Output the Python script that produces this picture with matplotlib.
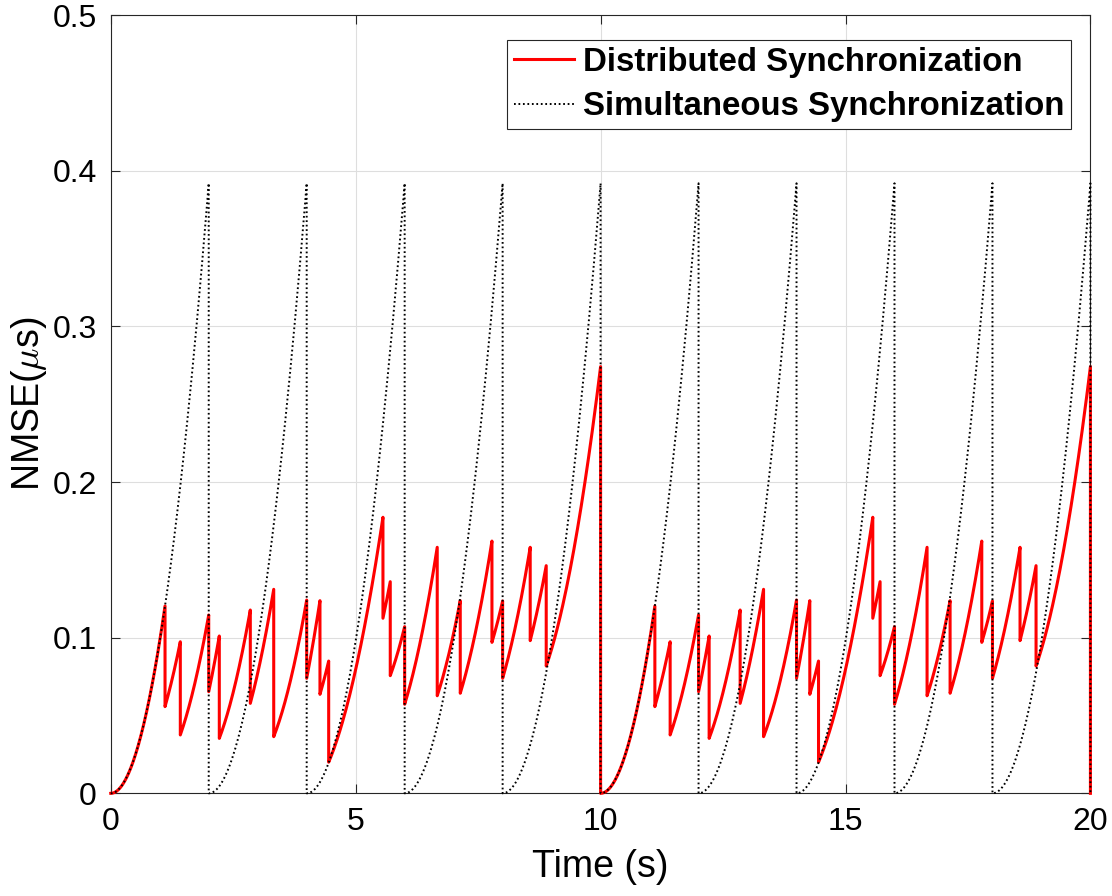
import numpy as np
import matplotlib
matplotlib.use("Agg")
import matplotlib.pyplot as plt

# ---------------- data ----------------
# Distributed synchronization: one 10-s pattern, repeated at these offsets
cycle_offsets = [0.0, 10.0]
# segment boundary times inside one 10-s pattern (s)
red_break_t = [0.0, 1.108, 1.420, 2.0, 2.216, 2.849, 3.327, 4.0, 4.271, 4.449,
               5.557, 5.706, 6.0, 6.665, 7.135, 7.782, 8.0, 8.563, 8.890, 10.0]
# value right after each reset (segment start)
red_reset_v = [0.0, 0.0557, 0.0375, 0.0653, 0.0353, 0.0578, 0.0364, 0.0739, 0.0636,
               0.0200, 0.1125, 0.0756, 0.0572, 0.0627, 0.0643, 0.0970, 0.0739, 0.0981,
               0.0818]
# value at the middle of each segment
red_mid_v = [0.030, 0.0748, 0.0698, 0.0823, 0.0691, 0.0902, 0.0718, 0.0975, 0.0737,
             0.080, 0.1239, 0.0898, 0.0994, 0.0892, 0.1054, 0.1094, 0.1101, 0.1202,
             0.155]
# value just before the next reset (segment peak)
red_peak_v = [0.1204, 0.0974, 0.1146, 0.1011, 0.1178, 0.1311, 0.1242, 0.1238, 0.0850,
              0.1774, 0.1360, 0.1071, 0.1581, 0.1238, 0.1621, 0.1236, 0.1581, 0.1463,
              0.2742]

# Simultaneous synchronization: reset every 2 s
black_reset_t = [0, 2, 4, 6, 8, 10, 12, 14, 16, 18]
black_period = 2.0
black_mid_v = 0.098
black_peak_v = 0.392

x_ticks = [0, 5, 10, 15, 20]
y_ticks = [0, 0.1, 0.2, 0.3, 0.4, 0.5]
labels = ["Distributed Synchronization", "Simultaneous Synchronization"]


def smooth_segment(t0, t1, v0, vm, v1, n=60):
    tm = 0.5 * (t0 + t1)
    coef = np.polyfit([t0, tm, t1], [v0, vm, v1], 2)
    tt = np.linspace(t0, t1, n)
    return tt, np.polyval(coef, tt)


# build red curve
rt, rv = [], []
for off in cycle_offsets:
    for i in range(len(red_reset_v)):
        tt, vv = smooth_segment(red_break_t[i] + off, red_break_t[i + 1] + off,
                                red_reset_v[i], red_mid_v[i], red_peak_v[i])
        rt.append(tt)
        rv.append(vv)
rt.append(np.array([cycle_offsets[-1] + red_break_t[-1]]))
rv.append(np.array([0.0]))
rt = np.concatenate(rt)
rv = np.concatenate(rv)

# build black curve
bt, bv = [], []
for t0 in black_reset_t:
    tt, vv = smooth_segment(t0, t0 + black_period, 0.0, black_mid_v, black_peak_v)
    bt.append(tt)
    bv.append(vv)
bt.append(np.array([black_reset_t[-1] + black_period]))
bv.append(np.array([0.0]))
bt = np.concatenate(bt)
bv = np.concatenate(bv)

# ---------------- plotting ----------------
plt.rcParams['font.family'] = ['Liberation Sans', 'DejaVu Sans']
plt.rcParams['mathtext.fontset'] = 'cm'

fig = plt.figure(figsize=(11.12, 8.96), dpi=100)
ax = fig.add_axes([0.0996, 0.1146, 0.9806 - 0.0996, 0.983 - 0.1146])

ax.plot(rt, rv, color='#ff0000', lw=2.2, label=labels[0], zorder=3, clip_on=False)
ax.plot(bt, bv, color='black', lw=1.4, linestyle=(0, (0.9, 1.4)), label=labels[1],
        zorder=4, clip_on=False)

ax.set_xlim(0, 20)
ax.set_ylim(0, 0.5)
ax.set_xticks(x_ticks)
ax.set_yticks(y_ticks)
ax.set_xticklabels([str(v) for v in x_ticks])
ax.set_yticklabels(["0" if v == 0 else f"{v:.1f}" for v in y_ticks])

ax.grid(True, color='#dedede', lw=0.8)
ax.set_axisbelow(True)
for s in ax.spines.values():
    s.set_color('#262626')
    s.set_linewidth(0.8)

ax.tick_params(axis='both', which='major', direction='in', top=True, right=True,
               length=6.5, width=0.8, color='#262626', labelsize=23)
ax.tick_params(axis='x', pad=9.5)
ax.tick_params(axis='y', pad=10)

ax.set_xlabel("Time (s)", fontsize=27)
ax.set_ylabel(r"NMSE($\mu$s)", fontsize=27)
ax.xaxis.set_label_coords(0.5, -0.072)
ax.yaxis.set_label_coords(-0.063, 0.5)

leg = ax.legend(loc='upper right', bbox_to_anchor=(0.9806, 0.9683), borderaxespad=0,
                prop={'size': 23.8, 'weight': 'bold'}, handlelength=1.8,
                handletextpad=0.3, labelspacing=0.42, borderpad=0.2,
                fancybox=False, framealpha=1, edgecolor='#262626')
leg.get_frame().set_linewidth(0.8)

fig.savefig("out.png", dpi=100)
